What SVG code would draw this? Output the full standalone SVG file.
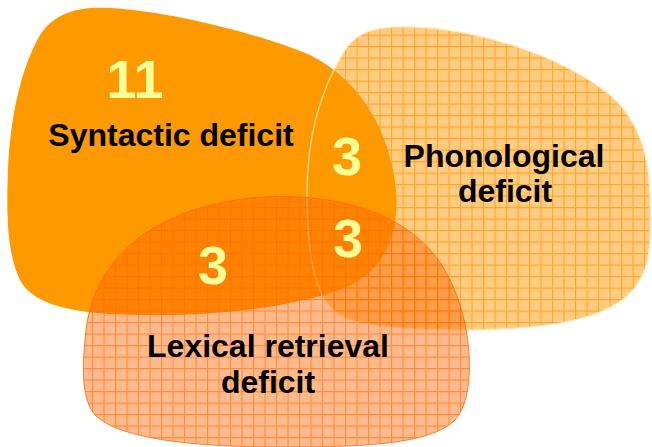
<svg xmlns="http://www.w3.org/2000/svg" width="652" height="447" viewBox="0 0 652 447">
<style>
.lbl{font-family:"Liberation Sans",Arial,sans-serif;font-weight:bold;font-size:32px;fill:#000;text-anchor:middle}
.num{font-family:"Liberation Sans",Arial,sans-serif;font-weight:bold;font-size:54px;fill:#FFFF99;text-anchor:middle}
</style>
<defs>
<pattern id="gridP" width="11.5" height="11.5" patternUnits="userSpaceOnUse">
<rect width="11.5" height="11.5" fill="#FFCC80"/>
<path d="M0 0.5H11.5M0.5 0V11.5" stroke="#FFA62E" stroke-width="1.2" fill="none"/>
</pattern>
<pattern id="gridL" width="11.5" height="11.5" patternUnits="userSpaceOnUse">
<rect width="11.5" height="11.5" fill="#FF6600" fill-opacity="0.45"/>
<path d="M0 0.5H11.5M0.5 0V11.5" stroke="#FF6600" stroke-opacity="0.55" stroke-width="1.2" fill="none"/>
</pattern>
</defs>
<g id="phonological">
<path d="M345,50 C355,35 370,28 395,27 C470,25 560,55 610,95 C650,130 652,180 650,240 C648,290 620,312 560,323 C500,333 400,333 350,320 C318,310 308,270 307,200 C306,140 320,90 345,50 Z" fill="url(#gridP)" stroke="#FFE9B0" stroke-width="1.2"/>
</g>
<g id="syntactic">
<path d="M40,35 C55,12 80,6 110,8 C180,12 270,38 310,55 C360,80 390,130 396,190 C400,240 380,275 340,290 C280,310 200,318 110,314 C60,311 30,300 20,280 C8,255 6,220 8,170 C10,120 20,70 40,35 Z" fill="#FF9900"/>
</g>
<path d="M345,50 C320,90 306,140 307,200 C308,270 318,310 350,320" fill="none" stroke="#FFF3C0" stroke-width="1.2" stroke-opacity="0.85"/>
<g id="lexical">
<path d="M85,340 C90,260 150,210 250,198 C340,190 420,215 450,280 C475,330 475,400 455,420 C430,445 360,447 280,447 C200,447 120,440 95,415 C82,400 82,370 85,340 Z" fill="url(#gridL)" stroke="#FF6600" stroke-opacity="0.8" stroke-width="1"/>
</g>
<g id="labels">
<text class="num" x="135" y="98">11</text>
<text class="lbl" x="171" y="146">Syntactic deficit</text>
<text class="num" x="347" y="175">3</text>
<text class="lbl" x="504" y="167">Phonological</text>
<text class="lbl" x="505" y="202">deficit</text>
<text class="num" x="348" y="257">3</text>
<text class="num" x="213" y="284">3</text>
<text class="lbl" x="268" y="357">Lexical retrieval</text>
<text class="lbl" x="268" y="393">deficit</text>
</g>
</svg>
